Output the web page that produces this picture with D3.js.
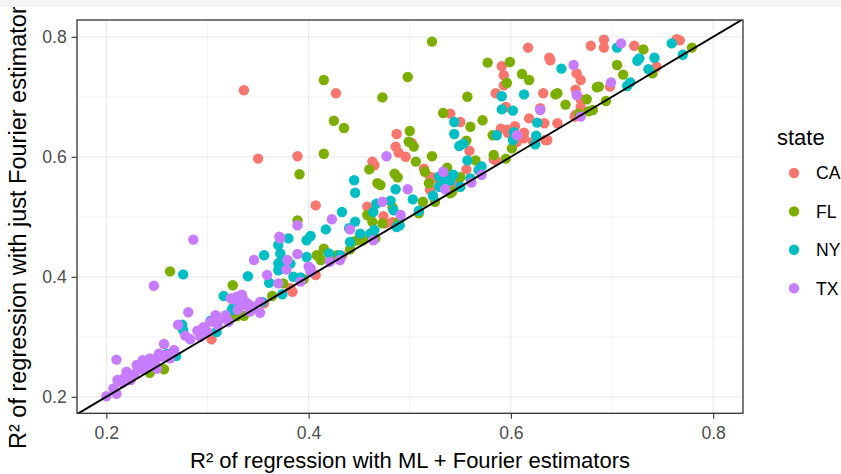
<!DOCTYPE html>
<html>
<head>
<meta charset="utf-8">
<script src="https://cdn.jsdelivr.net/npm/d3@7"></script>
<style>
body { margin: 0; background: #fff; }
text { font-family: "Liberation Sans", Arial, sans-serif; }
</style>
</head>
<body>
<div id="chart"></div>
<script>
// values: [R2 ML + Fourier, R2 just Fourier]
var states = ["CA", "FL", "NY", "TX"];

var caPts = [
    [0.336, 0.711], [0.350, 0.597], [0.427, 0.706], [0.389, 0.601], [0.407, 0.519],
    [0.617, 0.782], [0.638, 0.765], [0.591, 0.751], [0.593, 0.736], [0.593, 0.719],
    [0.585, 0.706], [0.595, 0.683], [0.540, 0.672], [0.550, 0.658], [0.632, 0.706],
    [0.618, 0.664], [0.629, 0.681], [0.487, 0.638], [0.486, 0.617], [0.489, 0.607],
    [0.496, 0.600], [0.502, 0.623], [0.463, 0.592], [0.465, 0.586], [0.559, 0.610],
    [0.590, 0.647], [0.596, 0.645], [0.604, 0.651], [0.613, 0.640], [0.613, 0.631],
    [0.604, 0.633], [0.514, 0.580], [0.524, 0.565], [0.520, 0.545], [0.556, 0.579],
    [0.544, 0.553], [0.585, 0.594], [0.458, 0.517], [0.474, 0.501], [0.476, 0.489],
    [0.483, 0.491], [0.382, 0.381], [0.384, 0.375], [0.407, 0.403], [0.356, 0.356],
    [0.304, 0.296], [0.543, 0.556], [0.530, 0.561], [0.433, 0.435], [0.665, 0.739],
    [0.669, 0.728], [0.664, 0.712], [0.669, 0.696], [0.663, 0.667], [0.646, 0.656],
    [0.639, 0.761], [0.679, 0.785], [0.692, 0.795], [0.692, 0.782], [0.722, 0.785],
    [0.764, 0.796], [0.767, 0.794], [0.744, 0.750], [0.698, 0.717], [0.669, 0.683],
    [0.664, 0.670], [0.634, 0.628], [0.622, 0.625], [0.633, 0.656], [0.636, 0.628],
    [0.583, 0.596], [0.537, 0.570], [0.597, 0.640], [0.520, 0.567], [0.606, 0.625]
];

var flPts = [
    [0.522, 0.792], [0.415, 0.728], [0.498, 0.733], [0.473, 0.699], [0.425, 0.660],
    [0.435, 0.648], [0.415, 0.605], [0.391, 0.571], [0.577, 0.757], [0.599, 0.758],
    [0.611, 0.738], [0.618, 0.728], [0.596, 0.723], [0.557, 0.700], [0.533, 0.673],
    [0.572, 0.661], [0.560, 0.650], [0.500, 0.643], [0.499, 0.625], [0.504, 0.617],
    [0.556, 0.627], [0.582, 0.636], [0.522, 0.601], [0.506, 0.592], [0.485, 0.572],
    [0.488, 0.566], [0.515, 0.575], [0.537, 0.582], [0.565, 0.594], [0.583, 0.603],
    [0.595, 0.597], [0.601, 0.614], [0.644, 0.704], [0.519, 0.556], [0.550, 0.566],
    [0.542, 0.542], [0.513, 0.525], [0.509, 0.506], [0.483, 0.516], [0.489, 0.492],
    [0.460, 0.579], [0.468, 0.556], [0.458, 0.503], [0.463, 0.492], [0.410, 0.434],
    [0.415, 0.447], [0.454, 0.461], [0.441, 0.446], [0.389, 0.494], [0.408, 0.436],
    [0.412, 0.428], [0.325, 0.386], [0.395, 0.396], [0.443, 0.458], [0.448, 0.461],
    [0.466, 0.464], [0.364, 0.368], [0.329, 0.334], [0.263, 0.409], [0.257, 0.246],
    [0.243, 0.240], [0.327, 0.336], [0.336, 0.335], [0.297, 0.310], [0.375, 0.389],
    [0.339, 0.353], [0.473, 0.489], [0.525, 0.525], [0.540, 0.539], [0.471, 0.553],
    [0.705, 0.753], [0.711, 0.737], [0.687, 0.717], [0.740, 0.739], [0.675, 0.696],
    [0.654, 0.687], [0.677, 0.676], [0.694, 0.693], [0.667, 0.672], [0.731, 0.779],
    [0.779, 0.782], [0.646, 0.706], [0.685, 0.716], [0.681, 0.678], [0.428, 0.436]
];

var nyPts = [
    [0.276, 0.404], [0.276, 0.311], [0.275, 0.320], [0.260, 0.272], [0.268, 0.270],
    [0.303, 0.327], [0.309, 0.308], [0.316, 0.368], [0.324, 0.345], [0.340, 0.401],
    [0.356, 0.436], [0.354, 0.358], [0.361, 0.390], [0.370, 0.453], [0.372, 0.439],
    [0.370, 0.422], [0.380, 0.464], [0.382, 0.422], [0.385, 0.400], [0.374, 0.371],
    [0.398, 0.461], [0.402, 0.468], [0.398, 0.433], [0.420, 0.439], [0.446, 0.540],
    [0.433, 0.508], [0.417, 0.479], [0.370, 0.411], [0.431, 0.436], [0.446, 0.492],
    [0.451, 0.472], [0.440, 0.481], [0.461, 0.472], [0.464, 0.508], [0.467, 0.522],
    [0.484, 0.511], [0.481, 0.527], [0.486, 0.546], [0.392, 0.399], [0.445, 0.561],
    [0.503, 0.529], [0.465, 0.478], [0.487, 0.483], [0.441, 0.458], [0.533, 0.562],
    [0.540, 0.560], [0.543, 0.570], [0.529, 0.550], [0.591, 0.701], [0.591, 0.679],
    [0.602, 0.677], [0.613, 0.704], [0.544, 0.658], [0.544, 0.638], [0.549, 0.618],
    [0.553, 0.622], [0.586, 0.636], [0.603, 0.641], [0.626, 0.657], [0.624, 0.621],
    [0.602, 0.628], [0.557, 0.594], [0.571, 0.584], [0.568, 0.578], [0.529, 0.567],
    [0.560, 0.564], [0.550, 0.550], [0.523, 0.535], [0.490, 0.486], [0.509, 0.510],
    [0.650, 0.747], [0.625, 0.635], [0.705, 0.782], [0.759, 0.789], [0.727, 0.764],
    [0.725, 0.760], [0.742, 0.765], [0.736, 0.746], [0.770, 0.770], [0.718, 0.724],
    [0.715, 0.718], [0.269, 0.268], [0.326, 0.350], [0.374, 0.414], [0.372, 0.425]
];

var txPts = [
    [0.200, 0.201], [0.210, 0.205], [0.207, 0.214], [0.211, 0.228], [0.216, 0.223],
    [0.210, 0.262], [0.220, 0.242], [0.224, 0.228], [0.230, 0.253], [0.236, 0.261],
    [0.237, 0.245], [0.242, 0.258], [0.243, 0.264], [0.240, 0.251], [0.252, 0.272],
    [0.257, 0.288], [0.255, 0.267], [0.250, 0.247], [0.267, 0.278], [0.263, 0.264],
    [0.281, 0.341], [0.271, 0.320], [0.290, 0.310], [0.293, 0.300], [0.308, 0.336],
    [0.303, 0.325], [0.300, 0.308], [0.310, 0.320], [0.321, 0.325], [0.323, 0.364],
    [0.329, 0.367], [0.334, 0.370], [0.336, 0.361], [0.340, 0.355], [0.247, 0.385],
    [0.286, 0.462], [0.342, 0.342], [0.346, 0.428], [0.359, 0.403], [0.372, 0.464],
    [0.379, 0.428], [0.370, 0.389], [0.389, 0.438], [0.392, 0.392], [0.400, 0.417],
    [0.402, 0.408], [0.228, 0.238], [0.246, 0.262], [0.260, 0.270], [0.233, 0.248],
    [0.218, 0.232], [0.248, 0.256], [0.278, 0.302], [0.283, 0.296], [0.296, 0.316],
    [0.313, 0.330], [0.318, 0.336], [0.330, 0.345], [0.345, 0.350], [0.352, 0.358],
    [0.326, 0.362], [0.332, 0.360], [0.335, 0.356], [0.389, 0.486], [0.371, 0.467],
    [0.378, 0.412], [0.402, 0.414], [0.423, 0.496], [0.473, 0.525], [0.421, 0.425],
    [0.431, 0.428], [0.464, 0.461], [0.477, 0.601], [0.498, 0.546], [0.441, 0.479],
    [0.535, 0.546], [0.629, 0.678], [0.606, 0.636], [0.533, 0.575], [0.561, 0.557],
    [0.571, 0.570], [0.491, 0.503], [0.662, 0.753], [0.665, 0.703], [0.669, 0.667],
    [0.709, 0.789], [0.699, 0.724], [0.352, 0.340], [0.334, 0.353]
];

var xTicks = [0.2, 0.4, 0.6, 0.8];
var yTicks = [0.2, 0.4, 0.6, 0.8];
var xMinor = [0.3, 0.5, 0.7];
var yMinor = [0.3, 0.5, 0.7];
var xDomain = [0.171, 0.8295];
var yDomain = [0.1725, 0.828];

var xTitle = "R\u00b2 of regression with ML + Fourier estimators";
var yTitle = "R\u00b2 of regression with just Fourier estimators";
var legendTitle = "state";

var Chart = {};

Chart.color = d3.scaleOrdinal()
    .domain(states)
    .range(["#F8766D", "#7CAE00", "#00BFC4", "#C77CFF"]);

Chart.makeChart = function (width, height) {
    var color = Chart.color;
    var margin = { top: 20, right: 98, bottom: 60.7, left: 77 };
    var x = d3.scaleLinear().domain(xDomain).range([margin.left, width - margin.right]);
    var y = d3.scaleLinear().domain(yDomain).range([height - margin.bottom, margin.top]);

    var rows = [];
    [caPts, flPts, nyPts, txPts].forEach(function (pts, i) {
        pts.forEach(p => rows.push({ state: states[i], x: p[0], y: p[1] }));
    });

    var svg = d3.create("svg")
        .attr("width", width)
        .attr("height", height)
        .attr("viewBox", [0, 0, width, height]);

    svg.append("defs").append("clipPath")
        .attr("id", "panel-clip")
        .append("rect")
        .attr("x", x.range()[0])
        .attr("y", y.range()[1])
        .attr("width", x.range()[1] - x.range()[0])
        .attr("height", y.range()[0] - y.range()[1]);

    // grid
    var grid = svg.append("g").attr("stroke", "#ebebeb");
    grid.selectAll("line.xminor").data(xMinor).join("line")
        .attr("x1", d => x(d)).attr("x2", d => x(d))
        .attr("y1", y.range()[0]).attr("y2", y.range()[1])
        .attr("stroke-width", 0.6);
    grid.selectAll("line.yminor").data(yMinor).join("line")
        .attr("y1", d => y(d)).attr("y2", d => y(d))
        .attr("x1", x.range()[0]).attr("x2", x.range()[1])
        .attr("stroke-width", 0.6);
    grid.selectAll("line.xmajor").data(xTicks).join("line")
        .attr("x1", d => x(d)).attr("x2", d => x(d))
        .attr("y1", y.range()[0]).attr("y2", y.range()[1])
        .attr("stroke-width", 1.2);
    grid.selectAll("line.ymajor").data(yTicks).join("line")
        .attr("y1", d => y(d)).attr("y2", d => y(d))
        .attr("x1", x.range()[0]).attr("x2", x.range()[1])
        .attr("stroke-width", 1.2);

    // points
    svg.append("g")
        .selectAll("circle")
        .data(rows)
        .join("circle")
        .attr("cx", d => x(d.x))
        .attr("cy", d => y(d.y))
        .attr("r", 5.2)
        .attr("fill", d => color(d.state));

    // y = x reference line
    var line = d3.line().x(d => x(d)).y(d => y(d));
    svg.append("path")
        .attr("clip-path", "url(#panel-clip)")
        .attr("d", line([0.1, 0.9]))
        .attr("fill", "none")
        .attr("stroke", "#000")
        .attr("stroke-width", 1.9);

    // panel border
    svg.append("rect")
        .attr("x", x.range()[0])
        .attr("y", y.range()[1])
        .attr("width", x.range()[1] - x.range()[0])
        .attr("height", y.range()[0] - y.range()[1])
        .attr("fill", "none")
        .attr("stroke", "#333")
        .attr("stroke-width", 1.3);

    // axes
    var fmt = d3.format(".1f");
    var xAxis = svg.append("g")
        .attr("transform", `translate(0,${y.range()[0]})`)
        .call(d3.axisBottom(x).tickValues(xTicks).tickFormat(fmt).tickSize(5.5).tickPadding(8));
    var yAxis = svg.append("g")
        .attr("transform", `translate(${x.range()[0]},0)`)
        .call(d3.axisLeft(y).tickValues(yTicks).tickFormat(fmt).tickSize(5.5).tickPadding(4.8));
    [xAxis, yAxis].forEach(function (g) {
        g.select(".domain").remove();
        g.selectAll(".tick line").attr("stroke", "#333").attr("stroke-width", 1.1);
        g.selectAll(".tick text")
            .attr("fill", "#4d4d4d")
            .attr("font-size", "17.6px")
            .attr("font-family", "'Liberation Sans', Arial, sans-serif");
    });

    // axis titles
    svg.append("text")
        .attr("x", (x.range()[0] + x.range()[1]) / 2)
        .attr("y", 468)
        .attr("text-anchor", "middle")
        .attr("font-size", "22px")
        .text(xTitle);

    // the y title runs past the top edge in the reference
    svg.append("text")
        .attr("transform", "translate(26,449) rotate(-90)")
        .attr("text-anchor", "start")
        .attr("font-size", "23.5px")
        .text(yTitle);

    // legend
    var legend = svg.append("g");
    legend.append("text")
        .attr("x", 777)
        .attr("y", 145)
        .attr("font-size", "22px")
        .text(legendTitle);
    var item = legend.selectAll("g.item")
        .data(states)
        .join("g")
        .attr("transform", (d, i) => `translate(794,${173 + i * 38.4})`);
    item.append("circle")
        .attr("r", 5.2)
        .attr("fill", d => color(d));
    item.append("text")
        .attr("x", 22)
        .attr("y", 6.3)
        .attr("font-size", "17.6px")
        .text(d => d);

    // grey strip across the top of the picture
    svg.append("rect")
        .attr("x", 0).attr("y", 0)
        .attr("width", width).attr("height", 7)
        .attr("fill", "#f5f5f5");

    return svg.node();
};

document.getElementById("chart").append(Chart.makeChart(841, 474));
</script>
</body>
</html>
